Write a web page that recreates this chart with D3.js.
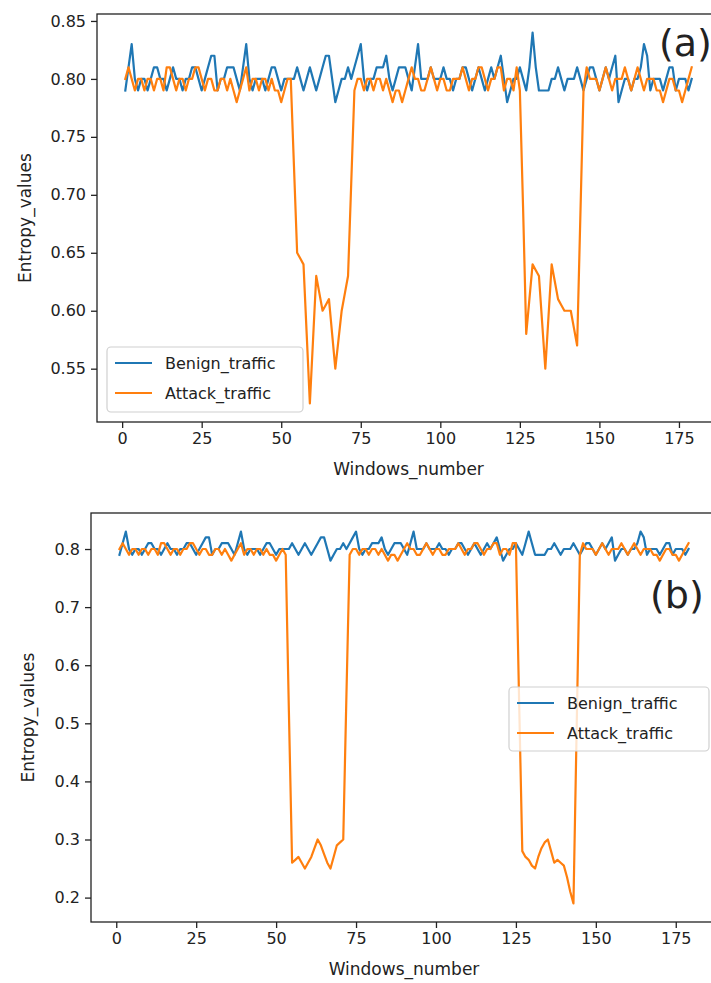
<!DOCTYPE html>
<html><head><meta charset="utf-8">
<script src="https://cdn.jsdelivr.net/npm/d3@7"></script>
<style>
body{margin:0;background:#fff}
svg{display:block}
text{font-family:"DejaVu Sans",sans-serif;fill:#222}
</style>
</head><body>
<svg id="c" width="711" height="983"></svg>
<script>
// ---------- data ----------
const seriesNames = ["Benign_traffic", "Attack_traffic"];
const xTicks = [0, 25, 50, 75, 100, 125, 150, 175];
const yTicksA = [0.55, 0.60, 0.65, 0.70, 0.75, 0.80, 0.85];
const yTicksB = [0.2, 0.3, 0.4, 0.5, 0.6, 0.7, 0.8];

const benignA = [
 .79,.81,.83,.80,.79,.80,.80,.79,.80,.81,
 .81,.80,.80,.79,.80,.81,.80,.80,.79,.80,
 .80,.81,.81,.80,.79,.80,.81,.82,.82,.79,
 .80,.80,.81,.81,.81,.80,.79,.81,.83,.80,
 .79,.80,.80,.80,.79,.80,.81,.81,.80,.79,
 .80,.80,.80,.80,.81,.80,.79,.80,.81,.80,
 .79,.80,.81,.82,.82,.80,.78,.79,.80,.80,
 .81,.80,.81,.82,.83,.80,.79,.80,.80,.81,
 .81,.81,.82,.80,.79,.80,.81,.81,.81,.80,
 .79,.81,.83,.80,.80,.80,.81,.80,.80,.80,
 .81,.80,.80,.79,.80,.80,.81,.81,.80,.79,
 .80,.81,.80,.79,.80,.81,.80,.81,.82,.80,
 .78,.79,.80,.80,.81,.80,.79,.81,.84,.81,
 .79,.79,.79,.79,.80,.80,.81,.80,.79,.80,
 .80,.80,.81,.80,.79,.80,.81,.81,.80,.79,
 .80,.81,.80,.81,.82,.78,.79,.80,.80,.79,
 .80,.80,.81,.83,.82,.79,.80,.80,.80,.79,
 .80,.81,.81,.79,.80,.80,.80,.79,.80];

const attackA = [
 .80,.81,.80,.79,.80,.80,.79,.80,.80,.79,
 .80,.80,.79,.81,.81,.80,.79,.80,.80,.79,
 .80,.80,.81,.81,.80,.79,.80,.80,.79,.79,
 .80,.80,.79,.80,.79,.78,.79,.80,.81,.79,
 .80,.80,.79,.80,.80,.79,.80,.79,.79,.78,
 .79,.80,.80,.725,.65,.645,.64,.58,.52,.575,
 .63,.615,.60,.605,.61,.58,.55,.575,.60,.615,
 .63,.71,.79,.80,.80,.79,.80,.80,.79,.80,
 .80,.79,.80,.79,.78,.79,.79,.78,.79,.80,
 .81,.80,.80,.79,.79,.80,.81,.80,.79,.80,
 .80,.79,.79,.80,.80,.80,.81,.80,.79,.80,
 .80,.81,.81,.80,.79,.80,.80,.81,.81,.79,
 .80,.80,.79,.81,.79,.69,.58,.61,.64,.635,
 .63,.59,.55,.595,.64,.625,.61,.605,.60,.60,
 .60,.585,.57,.68,.79,.81,.80,.80,.80,.79,
 .80,.81,.80,.79,.80,.80,.80,.81,.80,.79,
 .80,.81,.80,.79,.80,.80,.80,.79,.79,.78,
 .79,.80,.80,.79,.79,.78,.79,.80,.81];

const benignB = [
 .79,.81,.83,.80,.79,.80,.80,.79,.80,.81,
 .81,.80,.80,.79,.80,.81,.80,.80,.79,.80,
 .80,.81,.81,.80,.79,.80,.81,.82,.82,.79,
 .80,.80,.81,.81,.81,.80,.79,.81,.83,.80,
 .79,.80,.80,.80,.79,.80,.81,.81,.80,.79,
 .80,.80,.80,.80,.81,.80,.79,.80,.81,.80,
 .79,.80,.81,.82,.82,.80,.78,.79,.80,.80,
 .81,.80,.81,.82,.83,.80,.79,.80,.80,.81,
 .81,.81,.82,.80,.79,.80,.81,.81,.81,.80,
 .79,.81,.83,.80,.80,.80,.81,.80,.80,.80,
 .81,.80,.80,.79,.80,.80,.81,.81,.80,.79,
 .80,.81,.80,.79,.80,.81,.80,.81,.82,.80,
 .78,.79,.80,.80,.81,.80,.79,.81,.83,.81,
 .79,.79,.79,.79,.80,.80,.81,.80,.79,.80,
 .80,.80,.81,.80,.79,.80,.81,.81,.80,.79,
 .80,.81,.80,.81,.82,.78,.79,.80,.80,.79,
 .80,.80,.81,.83,.82,.79,.80,.80,.80,.79,
 .80,.81,.81,.79,.80,.80,.80,.79,.80];

const attackB = [
 .80,.81,.80,.79,.80,.80,.79,.80,.80,.79,
 .80,.80,.79,.81,.81,.80,.79,.80,.80,.79,
 .80,.80,.81,.81,.80,.79,.80,.80,.79,.79,
 .80,.80,.79,.80,.79,.78,.79,.80,.81,.79,
 .80,.80,.79,.80,.80,.79,.80,.79,.79,.78,
 .79,.80,.79,.52,.26,.265,.27,.26,.25,.26,
 .27,.285,.30,.29,.275,.26,.25,.27,.29,.295,
 .30,.55,.79,.80,.80,.79,.80,.80,.79,.80,
 .80,.79,.80,.79,.78,.79,.79,.78,.79,.80,
 .81,.80,.80,.79,.79,.80,.81,.80,.79,.80,
 .80,.79,.79,.80,.80,.80,.81,.80,.79,.80,
 .80,.81,.81,.80,.79,.80,.80,.81,.81,.79,
 .80,.80,.79,.81,.81,.54,.28,.27,.265,.255,
 .25,.27,.285,.295,.30,.28,.26,.265,.26,.255,
 .235,.21,.19,.49,.79,.81,.80,.80,.80,.79,
 .80,.81,.80,.79,.80,.80,.80,.81,.80,.79,
 .80,.81,.80,.79,.80,.80,.80,.79,.79,.78,
 .79,.80,.80,.79,.79,.78,.79,.80,.81];

// ---------- drawing ----------
const colors = ["#1f77b4", "#ff7f0e"];
const svg = d3.select("#c");
const FS = 16;
const LFS = 17;

function panel(cfg) {
  const {left, top, right, bottom, benign, attack, yTicks, yFmt, legend, letter} = cfg;
  const n = benign.length;
  const xs = benign.map((_, i) => i + 1);
  const xPad = (xs[n - 1] - xs[0]) * 0.05;
  const x = d3.scaleLinear().domain([xs[0] - xPad, xs[n - 1] + xPad]).range([left, right]);
  const all = benign.concat(attack);
  const lo = d3.min(all), hi = d3.max(all), yPad = (hi - lo) * 0.05;
  const y = d3.scaleLinear().domain([lo - yPad, hi + yPad]).range([bottom, top]);
  const g = svg.append("g");

  // lines
  const line = d3.line().x((d, i) => x(xs[i])).y(d => y(d));
  [benign, attack].forEach((s, k) => {
    g.append("path").datum(s).attr("d", line)
      .attr("fill", "none").attr("stroke", colors[k])
      .attr("stroke-width", 2.2).attr("stroke-linejoin", "round").attr("stroke-linecap", "square");
  });

  // axes
  const xa = g.append("g").attr("transform", `translate(0,${bottom})`)
    .call(d3.axisBottom(x).tickValues(xTicks).tickSize(6).tickPadding(5).tickFormat(d3.format("d")));
  const ya = g.append("g").attr("transform", `translate(${left},0)`)
    .call(d3.axisLeft(y).tickValues(yTicks).tickSize(6).tickPadding(5).tickFormat(d3.format(yFmt)));
  [xa, ya].forEach(a => {
    a.select(".domain").remove();
    a.selectAll("line").attr("stroke", "#222").attr("stroke-width", 1.3);
    a.selectAll("text").attr("font-size", FS).attr("fill", "#222")
      .attr("font-family", "DejaVu Sans");
  });
  // frame
  g.append("rect").attr("x", left).attr("y", top).attr("width", right - left).attr("height", bottom - top)
    .attr("fill", "none").attr("stroke", "#222").attr("stroke-width", 1.3);

  // labels
  g.append("text").attr("x", (left + right) / 2).attr("y", bottom + 53)
    .attr("text-anchor", "middle").attr("font-size", LFS).text("Windows_number");
  g.append("text").attr("transform", `translate(${cfg.ylabX},${(top + bottom) / 2}) rotate(-90)`)
    .attr("text-anchor", "middle").attr("dy", "0.35em").attr("font-size", LFS).text("Entropy_values");

  // legend
  const lg = g.append("g");
  lg.append("rect").attr("x", legend.x).attr("y", legend.y).attr("width", legend.w).attr("height", legend.h)
    .attr("rx", 4).attr("fill", "#fff").attr("fill-opacity", 0.8).attr("stroke", "#d0d0d0").attr("stroke-width", 1.2);
  seriesNames.forEach((name, k) => {
    const yy = legend.y + 16 + k * 30;
    lg.append("line").attr("x1", legend.x + 8).attr("x2", legend.x + 45).attr("y1", yy).attr("y2", yy)
      .attr("stroke", colors[k]).attr("stroke-width", 2.2);
    lg.append("text").attr("x", legend.x + 58).attr("y", yy).attr("dy", "0.35em")
      .attr("font-size", FS).text(name);
  });

  // panel letter
  g.append("text").attr("x", letter.x).attr("y", letter.y).attr("font-size", 38)
    .attr("font-family", "Noto Sans, sans-serif").attr("fill", "#111").text(letter.t);
}

panel({left: 97, top: 14, right: 720, bottom: 422, benign: benignA, attack: attackA,
  yTicks: yTicksA, yFmt: ".2f", ylabX: 25,
  legend: {x: 107, y: 347, w: 196, h: 65}, letter: {x: 659, y: 56, t: "(a)"}});
panel({left: 91, top: 513, right: 717, bottom: 922, benign: benignB, attack: attackB,
  yTicks: yTicksB, yFmt: ".1f", ylabX: 28,
  legend: {x: 509, y: 687, w: 200, h: 64}, letter: {x: 650, y: 608, t: "(b)"}});
</script>
</body></html>
